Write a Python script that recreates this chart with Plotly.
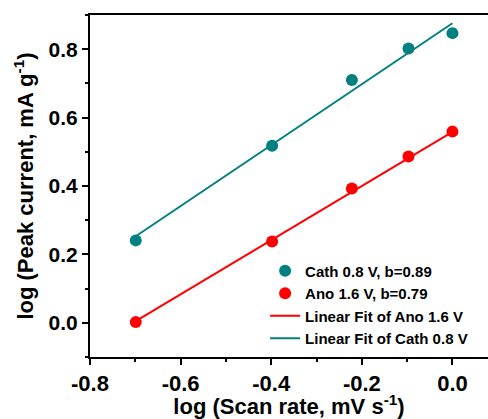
import plotly.graph_objects as go

# Data
log_scan = [-0.699, -0.398, -0.222, -0.097, 0.0]
cath_peak = [0.241, 0.518, 0.710, 0.802, 0.847]
ano_peak = [0.002, 0.238, 0.393, 0.486, 0.559]
fit_x = [-0.699, 0.0]
cath_fit = [0.253, 0.876]
ano_fit = [0.005, 0.558]

x_ticks = [-0.8, -0.6, -0.4, -0.2, 0.0]
x_tick_text = ["-0.8", "-0.6", "-0.4", "-0.2", "0.0"]
y_ticks = [0.0, 0.2, 0.4, 0.6, 0.8]
y_tick_text = ["0.0", "0.2", "0.4", "0.6", "0.8"]

TEAL = "#008080"
RED = "#FF0000"
FONT = "Liberation Sans"

fig = go.Figure()
fig.add_trace(go.Scatter(x=log_scan, y=cath_peak, mode="markers",
                         marker=dict(color=TEAL, size=12),
                         name="Cath 0.8 V, b=0.89"))
fig.add_trace(go.Scatter(x=log_scan, y=ano_peak, mode="markers",
                         marker=dict(color=RED, size=12),
                         name="Ano 1.6 V, b=0.79"))
fig.add_trace(go.Scatter(x=fit_x, y=ano_fit, mode="lines",
                         line=dict(color=RED, width=2),
                         name="Linear Fit of Ano 1.6 V"))
fig.add_trace(go.Scatter(x=fit_x, y=cath_fit, mode="lines",
                         line=dict(color=TEAL, width=2),
                         name="Linear Fit of Cath 0.8 V"))

fig.update_layout(
    width=488, height=419,
    margin=dict(l=90, r=0, t=15, b=62, autoexpand=False),
    plot_bgcolor="white", paper_bgcolor="white",
    font=dict(family=FONT, color="black", weight="bold"),
    showlegend=True,
    legend=dict(x=0.44, y=0.30, xanchor="left", yanchor="top",
                bgcolor="rgba(0,0,0,0)", font=dict(size=15, family=FONT, weight="bold"),
                tracegroupgap=0, itemwidth=30),
)
fig.update_xaxes(
    range=[-0.8, 0.0785], tickvals=x_ticks, ticktext=[f"<b>{t}</b>" for t in x_tick_text],
    showline=True, linecolor="black", linewidth=2, mirror=True,
    ticks="outside", ticklen=6, tickwidth=2, tickcolor="black",
    minor=dict(dtick=0.1, tick0=0, ticks="outside", ticklen=3, tickwidth=2, tickcolor="black"),
    showgrid=False, zeroline=False, automargin=False,
    tickfont=dict(size=22, family=FONT, weight="bold"),
    title=dict(text="log (Scan rate, mV s<sup>-1</sup>)", font=dict(size=22, family=FONT, weight="bold"), standoff=0),
)
fig.update_yaxes(
    range=[-0.1, 0.9], tickvals=y_ticks, ticktext=[f"<b>{t}</b>" for t in y_tick_text],
    showline=True, linecolor="black", linewidth=2, mirror=False,
    ticks="outside", ticklen=6, tickwidth=2, tickcolor="black",
    minor=dict(dtick=0.1, tick0=0, ticks="outside", ticklen=3, tickwidth=2, tickcolor="black"),
    showgrid=False, zeroline=False, automargin=False,
    tickfont=dict(size=21, family=FONT, weight="bold"),
    title=dict(text="log (Peak current, mA g<sup>-1</sup>)", font=dict(size=22, family=FONT, weight="bold"), standoff=9),
)

fig.write_html("out.html", config={"displayModeBar": False},
               post_script="document.body.style.margin='0';document.body.style.overflow='hidden';")
